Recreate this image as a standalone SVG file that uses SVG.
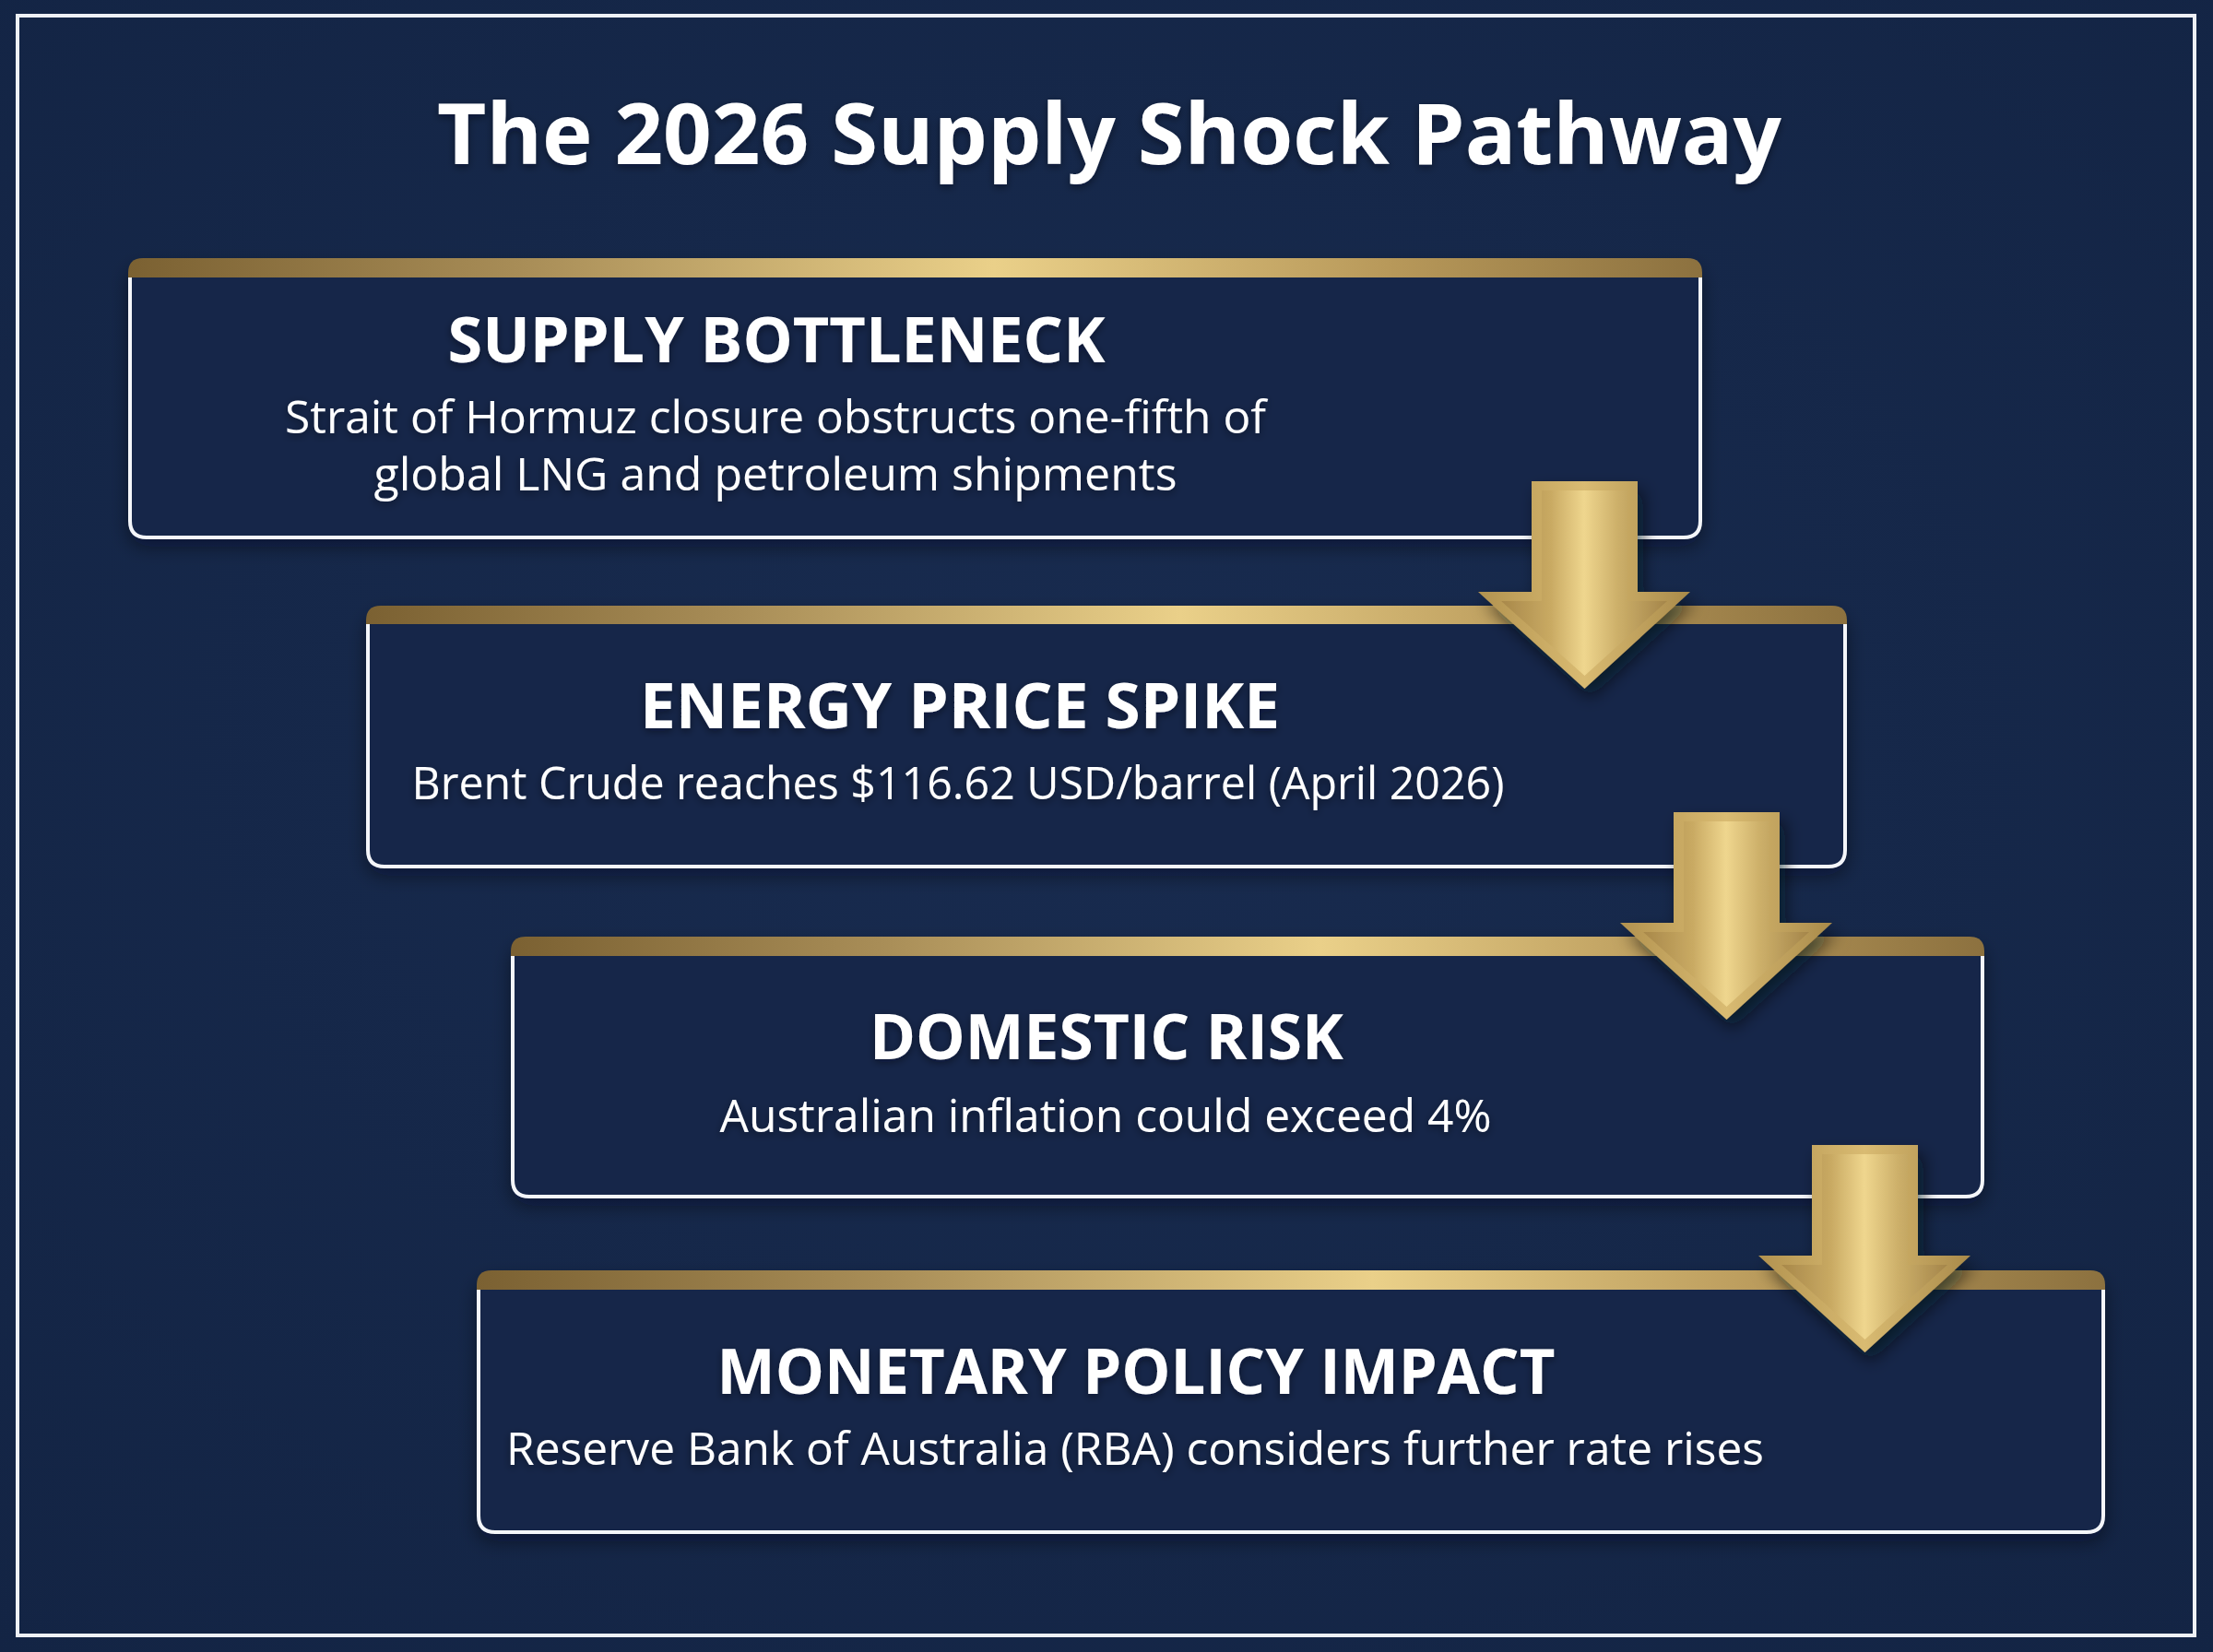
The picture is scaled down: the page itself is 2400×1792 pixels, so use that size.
<svg xmlns="http://www.w3.org/2000/svg" width="2400" height="1792" viewBox="0 0 2400 1792">
  <style>
    .title { font-family: "Open Sans", "Liberation Sans", sans-serif; font-weight: 700; fill: #ffffff; }
    .head { font-family: "Open Sans", "Liberation Sans", sans-serif; font-weight: 700; font-size: 68px; fill: #ffffff; }
    .body { font-family: "Open Sans", "Liberation Sans", sans-serif; font-weight: 400; font-size: 50px; fill: #ffffff; }
    .frame { fill: none; stroke: #f4f6fa; stroke-width: 4; }
    .bar { fill: url(#goldBar); }
    .boxbg { fill: #16284a; }
    .arrowOuter { fill: url(#arrowOut); }
    .arrowInner { fill: url(#arrowIn); }
  </style>
  <defs>
    <radialGradient id="bgGrad" cx="50%" cy="45%" r="75%">
      <stop offset="0" stop-color="#182b4f"/>
      <stop offset="1" stop-color="#132444"/>
    </radialGradient>
    <linearGradient id="goldBar" x1="0" y1="0" x2="1" y2="0">
      <stop offset="0" stop-color="#7b6132"/>
      <stop offset="0.25" stop-color="#a88d57"/>
      <stop offset="0.55" stop-color="#ead089"/>
      <stop offset="0.8" stop-color="#b8995a"/>
      <stop offset="1" stop-color="#8c713f"/>
    </linearGradient>
    <linearGradient id="arrowOut" x1="0" y1="0" x2="1" y2="0">
      <stop offset="0" stop-color="#b2924f"/>
      <stop offset="0.5" stop-color="#d9bb72"/>
      <stop offset="1" stop-color="#a98a4a"/>
    </linearGradient>
    <linearGradient id="arrowIn" x1="0" y1="0" x2="1" y2="0">
      <stop offset="0" stop-color="#a8884a"/>
      <stop offset="0.3" stop-color="#c9aa63"/>
      <stop offset="0.5" stop-color="#efd68e"/>
      <stop offset="0.7" stop-color="#cdb06a"/>
      <stop offset="1" stop-color="#a4854a"/>
    </linearGradient>
    <filter id="boxShadow" x="-5%" y="-10%" width="110%" height="130%">
      <feDropShadow dx="0" dy="10" stdDeviation="10" flood-color="#060e1f" flood-opacity="0.45"/>
    </filter>
    <filter id="arrowShadow" x="-30%" y="-20%" width="160%" height="150%">
      <feDropShadow dx="6" dy="10" stdDeviation="9" flood-color="#050b18" flood-opacity="0.6"/>
    </filter>
    <filter id="textShadow" x="-10%" y="-30%" width="120%" height="160%">
      <feDropShadow dx="0" dy="3" stdDeviation="4" flood-color="#050b18" flood-opacity="0.45"/>
    </filter>
  </defs>

  <rect x="0" y="0" width="2400" height="1792" fill="url(#bgGrad)"/>
  <rect x="19" y="17" width="2361" height="1757" fill="none" stroke="#eef1f6" stroke-width="4"/>

  <g id="title">
    <text class="title" x="1203" y="178" font-size="92" text-anchor="middle" textLength="1458" lengthAdjust="spacingAndGlyphs" filter="url(#textShadow)">The 2026 Supply Shock Pathway</text>
  </g>

  <g id="node-supply-bottleneck">
    <rect class="boxbg" x="139" y="280" width="1707" height="303" rx="18" filter="url(#boxShadow)"/>
    <path class="frame" d="M141,301 V565 Q141,583 159,583 H1826 Q1844,583 1844,565 V301"/>
    <path class="bar" d="M139,301 V296 Q139,280 155,280 H1830 Q1846,280 1846,296 V301 Z"/>
    <g filter="url(#textShadow)">
      <text class="head" x="842" y="393" text-anchor="middle" textLength="713" lengthAdjust="spacingAndGlyphs">SUPPLY BOTTLENECK</text>
      <text class="body" x="841" y="470" text-anchor="middle" textLength="1064" lengthAdjust="spacingAndGlyphs">Strait of Hormuz closure obstructs one-fifth of</text>
      <text class="body" x="841" y="532" text-anchor="middle" textLength="871" lengthAdjust="spacingAndGlyphs">global LNG and petroleum shipments</text>
    </g>
  </g>

  <g id="node-energy-price-spike">
    <rect class="boxbg" x="397" y="657" width="1606" height="283" rx="18" filter="url(#boxShadow)"/>
    <path class="frame" d="M399,677 V922 Q399,940 417,940 H1983 Q2001,940 2001,922 V677"/>
    <path class="bar" d="M397,677 V673 Q397,657 413,657 H1987 Q2003,657 2003,673 V677 Z"/>
    <g filter="url(#textShadow)">
      <text class="head" x="1041" y="790" text-anchor="middle" textLength="694" lengthAdjust="spacingAndGlyphs">ENERGY PRICE SPIKE</text>
      <text class="body" x="1039" y="867" text-anchor="middle" textLength="1185" lengthAdjust="spacingAndGlyphs">Brent Crude reaches $116.62 USD/barrel (April 2026)</text>
    </g>
  </g>

  <g id="node-domestic-risk">
    <rect class="boxbg" x="554" y="1016" width="1598" height="282" rx="18" filter="url(#boxShadow)"/>
    <path class="frame" d="M556,1037 V1280 Q556,1298 574,1298 H2132 Q2150,1298 2150,1280 V1037"/>
    <path class="bar" d="M554,1037 V1032 Q554,1016 570,1016 H2136 Q2152,1016 2152,1032 V1037 Z"/>
    <g filter="url(#textShadow)">
      <text class="head" x="1200" y="1149" text-anchor="middle" textLength="514" lengthAdjust="spacingAndGlyphs">DOMESTIC RISK</text>
      <text class="body" x="1199" y="1228" text-anchor="middle" textLength="837" lengthAdjust="spacingAndGlyphs">Australian inflation could exceed 4%</text>
    </g>
  </g>

  <g id="node-monetary-policy-impact">
    <rect class="boxbg" x="517" y="1378" width="1766" height="284" rx="18" filter="url(#boxShadow)"/>
    <path class="frame" d="M519,1399 V1644 Q519,1662 537,1662 H2263 Q2281,1662 2281,1644 V1399"/>
    <path class="bar" d="M517,1399 V1394 Q517,1378 533,1378 H2267 Q2283,1378 2283,1394 V1399 Z"/>
    <g filter="url(#textShadow)">
      <text class="head" x="1232" y="1512" text-anchor="middle" textLength="909" lengthAdjust="spacingAndGlyphs">MONETARY POLICY IMPACT</text>
      <text class="body" x="1231" y="1589" text-anchor="middle" textLength="1364" lengthAdjust="spacingAndGlyphs">Reserve Bank of Australia (RBA) considers further rate rises</text>
    </g>
  </g>

  <g id="connectors">
    <g id="arrow-1" transform="translate(1661,522)" filter="url(#arrowShadow)">
      <polygon class="arrowOuter" points="0,0 115,0 115,120 172,120 57.5,225 -58,120 0,120"/>
      <polygon class="arrowInner" points="11,10 104,10 104,130 147,130 57.5,211 -33,130 11,130"/>
    </g>
    <g id="arrow-2" transform="translate(1815,881)" filter="url(#arrowShadow)">
      <polygon class="arrowOuter" points="0,0 115,0 115,120 172,120 57.5,225 -58,120 0,120"/>
      <polygon class="arrowInner" points="11,10 104,10 104,130 147,130 57.5,211 -33,130 11,130"/>
    </g>
    <g id="arrow-3" transform="translate(1965,1242)" filter="url(#arrowShadow)">
      <polygon class="arrowOuter" points="0,0 115,0 115,120 172,120 57.5,225 -58,120 0,120"/>
      <polygon class="arrowInner" points="11,10 104,10 104,130 147,130 57.5,211 -33,130 11,130"/>
    </g>
  </g>
</svg>
